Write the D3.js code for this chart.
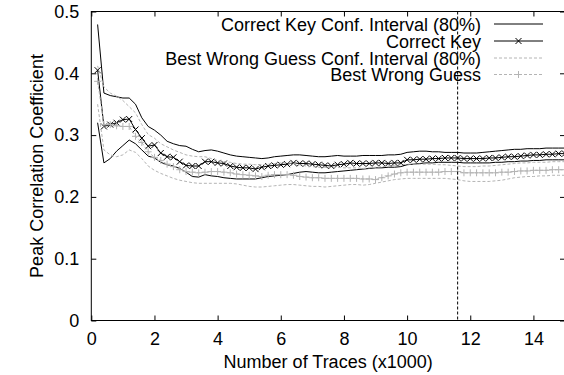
<!DOCTYPE html>
<html>
<head>
<meta charset="utf-8">
<script src="https://cdn.jsdelivr.net/npm/d3@7"></script>
<style>
  body { margin: 0; background: #fff; }
  svg { display: block; font-family: "Liberation Sans", Arial, Helvetica, sans-serif; }
</style>
</head>
<body>
<div id="chart"></div>
<script>
// number of traces (x1000)
const traces = [0.2,0.4,0.6,0.8,1.0,1.2,1.4,1.6,1.8,2.0,2.2,2.4,2.6,2.8,3.0,3.2,3.4,3.6,3.8,4.0,
  4.2,4.4,4.6,4.8,5.0,5.2,5.4,5.6,5.8,6.0,6.2,6.4,6.6,6.8,7.0,7.2,7.4,7.6,7.8,8.0,
  8.2,8.4,8.6,8.8,9.0,9.2,9.4,9.6,9.8,10.0,10.2,10.4,10.6,10.8,11.0,11.2,11.4,11.6,11.8,12.0,
  12.2,12.4,12.6,12.8,13.0,13.2,13.4,13.6,13.8,14.0,14.2,14.4,14.6,14.8,15.0];

const correctKey = [.405,.314,.317,.320,.325,.326,.309,.295,.282,.284,.271,.265,.264,.257,.251,.250,.250,.257,.257,.255,
  .254,.250,.248,.247,.247,.245,.248,.250,.251,.252,.253,.255,.254,.254,.253,.252,.251,.250,.252,.253,
  .255,.254,.254,.254,.255,.255,.254,.255,.255,.260,.260,.261,.261,.262,.262,.263,.263,.263,.262,.262,
  .262,.262,.263,.263,.264,.265,.265,.266,.267,.268,.268,.269,.269,.270,.270];

const correctHi = [.479,.368,.364,.362,.360,.360,.350,.328,.314,.308,.300,.290,.286,.283,.282,.277,.273,.275,.276,.274,
  .271,.268,.266,.265,.264,.263,.262,.263,.265,.266,.267,.268,.268,.267,.266,.265,.265,.266,.267,.266,
  .266,.266,.267,.267,.267,.267,.268,.268,.269,.272,.273,.274,.274,.273,.273,.272,.272,.272,.271,.271,
  .271,.272,.273,.274,.275,.276,.277,.277,.278,.278,.278,.279,.279,.279,.279];

const correctLo = [.320,.255,.262,.274,.283,.292,.286,.276,.266,.263,.256,.252,.250,.246,.240,.233,.232,.236,.234,.233,
  .231,.230,.229,.229,.229,.229,.231,.233,.234,.235,.236,.238,.240,.241,.240,.239,.239,.240,.241,.242,
  .243,.244,.245,.246,.247,.247,.248,.248,.249,.252,.253,.254,.255,.255,.256,.256,.256,.256,.255,.255,
  .255,.255,.255,.256,.256,.257,.257,.258,.258,.259,.259,.260,.260,.260,.260];

const wrongGuess = [.387,.317,.317,.315,.314,.314,.298,.288,.273,.264,.259,.253,.249,.244,.241,.240,.239,.240,.241,.241,
  .240,.239,.237,.236,.235,.234,.233,.235,.236,.236,.236,.235,.233,.232,.231,.231,.230,.230,.230,.230,
  .230,.230,.229,.229,.228,.231,.234,.237,.239,.240,.240,.240,.240,.240,.240,.241,.241,.241,.239,.239,
  .239,.239,.239,.239,.240,.240,.241,.242,.242,.243,.243,.243,.244,.244,.244];

const wrongHi = [.412,.378,.368,.363,.356,.346,.336,.317,.301,.295,.286,.281,.276,.272,.268,.266,.265,.265,.262,.259,
  .257,.256,.254,.253,.253,.252,.252,.253,.254,.255,.255,.254,.252,.250,.249,.248,.248,.248,.248,.247,
  .247,.247,.246,.247,.248,.249,.250,.251,.252,.253,.253,.253,.253,.253,.252,.252,.251,.250,.249,.249,
  .249,.250,.250,.251,.252,.253,.254,.255,.255,.256,.256,.256,.257,.257,.257];

const wrongLo = [.350,.276,.268,.265,.268,.276,.272,.262,.250,.243,.238,.234,.230,.227,.225,.223,.222,.222,.222,.222,
  .222,.222,.221,.219,.217,.216,.216,.217,.218,.219,.220,.220,.219,.218,.217,.217,.216,.217,.218,.219,
  .220,.220,.219,.220,.222,.224,.226,.228,.229,.230,.230,.230,.230,.230,.230,.230,.229,.228,.226,.225,
  .225,.225,.225,.226,.227,.229,.231,.232,.233,.233,.234,.234,.235,.235,.235];

const xTicks = [0, 2, 4, 6, 8, 10, 12, 14];
const yTicks = [0, 0.1, 0.2, 0.3, 0.4, 0.5];
const markerTraces = 11.6; // vertical dashed marker

const legendLabels = [
  "Correct Key Conf. Interval (80%)",
  "Correct Key",
  "Best Wrong Guess Conf. Interval (80%)",
  "Best Wrong Guess"
];

const width = 564, height = 375;
const plotLeft = 91.3, plotRight = 565, plotTop = 11.5, plotBottom = 320.5;

const svg = d3.select("#chart").append("svg")
  .attr("width", width)
  .attr("height", height);

const x = d3.scaleLinear().domain([0, 15]).range([plotLeft, plotRight]);
const y = d3.scaleLinear().domain([0, 0.5]).range([plotBottom, plotTop]);

const gray = "#b4b4b4";
const fontSize = 18;

// axes with inward ticks, mirrored on top/right
const fmtY = d => d === 0 ? "0" : d3.format(".1f")(d);

svg.append("g")
  .attr("transform", `translate(0,${plotBottom})`)
  .call(d3.axisBottom(x).tickValues(xTicks).tickSizeInner(-5).tickSizeOuter(0).tickPadding(12))
  .call(g => g.select(".domain").remove());

svg.append("g")
  .attr("transform", `translate(${plotLeft},0)`)
  .call(d3.axisLeft(y).tickValues(yTicks).tickFormat(fmtY).tickSizeInner(-5).tickSizeOuter(0).tickPadding(12))
  .call(g => g.select(".domain").remove());

svg.append("g")
  .attr("transform", `translate(0,${plotTop})`)
  .call(d3.axisTop(x).tickValues(xTicks).tickFormat("").tickSizeInner(-5).tickSizeOuter(0))
  .call(g => g.select(".domain").remove());

svg.append("g")
  .attr("transform", `translate(${plotRight},0)`)
  .call(d3.axisRight(y).tickValues(yTicks).tickFormat("").tickSizeInner(-5).tickSizeOuter(0))
  .call(g => g.select(".domain").remove());

svg.selectAll(".tick text")
  .attr("font-size", fontSize)
  .attr("font-family", "'Liberation Sans', Arial, sans-serif")
  .attr("fill", "#000");
svg.selectAll(".tick line").attr("stroke", "#000");

// plot border
svg.append("rect")
  .attr("x", plotLeft).attr("y", plotTop)
  .attr("width", plotRight - plotLeft).attr("height", plotBottom - plotTop)
  .attr("fill", "none").attr("stroke", "#000").attr("stroke-width", 1);

// axis titles
svg.append("text")
  .attr("x", (plotLeft + plotRight) / 2).attr("y", 368)
  .attr("text-anchor", "middle")
  .attr("font-size", fontSize)
  .text("Number of Traces (x1000)");

svg.append("text")
  .attr("transform", `translate(43,${(plotTop + plotBottom) / 2}) rotate(-90)`)
  .attr("text-anchor", "middle")
  .attr("font-size", fontSize)
  .text("Peak Correlation Coefficient");

// series
const line = vals => d3.line()
  .x((d, i) => x(traces[i]))
  .y(d => y(d))(vals);

const series = [
  {vals: correctHi, color: "#000", dash: null},
  {vals: correctLo, color: "#000", dash: null},
  {vals: correctKey, color: "#000", dash: null, marker: "x"},
  {vals: wrongHi, color: gray, dash: "3,2"},
  {vals: wrongLo, color: gray, dash: "3,2"},
  {vals: wrongGuess, color: gray, dash: "3,2", marker: "+"}
];

const plot = svg.append("g");

function markerPath(type, cx, cy) {
  const s = 3;
  if (type === "x") return `M${cx - s},${cy - s}L${cx + s},${cy + s}M${cx - s},${cy + s}L${cx + s},${cy - s}`;
  return `M${cx - s - 0.5},${cy}L${cx + s + 0.5},${cy}M${cx},${cy - s - 0.5}L${cx},${cy + s + 0.5}`;
}

series.forEach(s => {
  plot.append("path")
    .attr("d", line(s.vals))
    .attr("fill", "none")
    .attr("stroke", s.color)
    .attr("stroke-width", 1)
    .attr("stroke-dasharray", s.dash);
  if (s.marker) {
    plot.selectAll(null)
      .data(s.vals)
      .join("path")
      .attr("d", (d, i) => markerPath(s.marker, x(traces[i]), y(d)))
      .attr("stroke", s.color)
      .attr("stroke-width", 1)
      .attr("fill", "none");
  }
});

// vertical dashed line
svg.append("line")
  .attr("x1", x(markerTraces)).attr("x2", x(markerTraces))
  .attr("y1", plotTop).attr("y2", plotBottom)
  .attr("stroke", "#000").attr("stroke-width", 1)
  .attr("stroke-dasharray", "3,2");

// legend
const legendStyle = [
  {color: "#000", dash: null},
  {color: "#000", dash: null, marker: "x"},
  {color: gray, dash: "3,2"},
  {color: gray, dash: "3,2", marker: "+"}
];
const legendY = [24, 41, 58, 74.5];
const legend = svg.append("g");
legendLabels.forEach((label, i) => {
  const ly = legendY[i];
  legend.append("text")
    .attr("x", 481).attr("y", ly + 6.5)
    .attr("text-anchor", "end")
    .attr("font-size", fontSize)
    .text(label);
  legend.append("line")
    .attr("x1", 494).attr("x2", 543)
    .attr("y1", ly).attr("y2", ly)
    .attr("stroke", legendStyle[i].color)
    .attr("stroke-dasharray", legendStyle[i].dash);
  if (legendStyle[i].marker) {
    legend.append("path")
      .attr("d", markerPath(legendStyle[i].marker, 518.5, ly))
      .attr("stroke", legendStyle[i].color)
      .attr("fill", "none");
  }
});
</script>
</body>
</html>
